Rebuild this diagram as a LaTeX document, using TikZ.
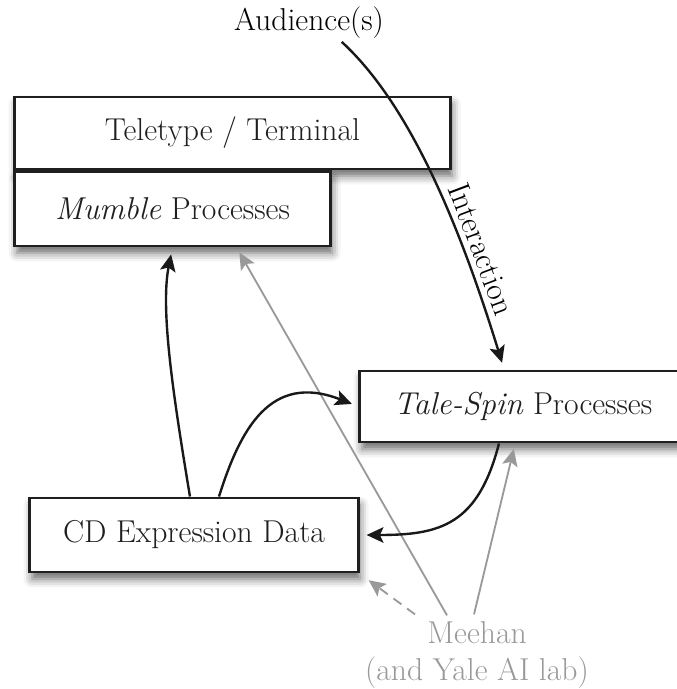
\documentclass[tikz,border=0pt]{standalone}
\usepackage{fontspec}
\usepackage{tikz}
\usetikzlibrary{arrows.meta,positioning,calc,shadows.blur}

\tikzset{
  procbox/.style={draw=black!88, line width=2.1pt, fill=white, text=black!88, inner sep=0pt,
    blur shadow={shadow xshift=1.5pt, shadow yshift=-5pt, shadow blur radius=6pt, shadow opacity=60}},
  flow/.style={->, line width=1.7pt, draw=black!90, shorten >=5pt},
  graylink/.style={->, line width=1.3pt, draw=black!40, shorten >=4pt},
}

\begin{document}
\begin{tikzpicture}[x=0.025cm,y=-0.025cm,>={Stealth[length=12pt,width=11pt,inset=2.5pt]},every node/.style={font=\fontsize{22.5}{26.5}\selectfont}]
\useasboundingbox (0,0) rectangle (676,689);
\node[procbox, minimum width=10.875cm, minimum height=1.8cm] (tele) at (232.5,133) {Teletype / Terminal};
\node[procbox, minimum width=7.875cm, minimum height=1.85cm, below right=0pt and 0pt of tele.south west] (mumble) {\textit{Mumble} Processes};
\node[procbox, minimum width=8.15cm, minimum height=1.775cm] (tale) at (523,406.5) {\textit{Tale-Spin} Processes};
\node[procbox, minimum width=8.2cm, minimum height=1.85cm] (cd) at (194,535) {CD Expression Data};
\node[inner sep=2pt] (aud) at (309,23) {Audience(s)};
\node[inner sep=2pt, align=center, text=black!40] (meehan) at (477,655) {Meehan\\(and Yale AI lab)};
\draw[graylink] ($(meehan.north)+(-30,-3)$) -- (mumble.-31);
\draw[graylink] ($(meehan.north)+(-3,-4)$) -- (tale.-102);
\draw[graylink, dash pattern=on 7pt off 5pt, shorten >=8pt] ($(meehan.north)+(-62,-4)$) -- (cd.south east);
\draw[flow] (aud.-30) .. controls (405,100) and (455,210) .. (tale.117)
  node[sloped, above=2pt, pos=0.74, inner sep=2pt] {Interaction};
\draw[flow] (cd.96) .. controls (174,400) and (160,310) .. (mumble.south);
\draw[flow] (cd.57) .. controls (240,430) and (270,372) .. (tale.west);
\draw[flow] (tale.-123) .. controls (478,525) and (440,535) .. (cd.east);
\end{tikzpicture}
\end{document}
